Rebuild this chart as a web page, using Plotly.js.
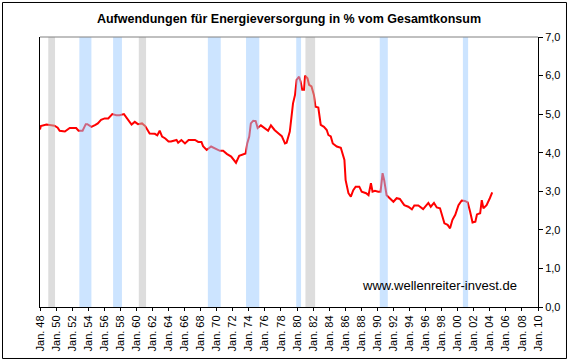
<!DOCTYPE html>
<html><head><meta charset="utf-8">
<script src="https://cdn.plot.ly/plotly-3.0.1.min.js"></script>
<style>html,body{margin:0;padding:0;background:#fff}#chart{width:570px;height:362px}</style>
</head><body><div id="chart"></div>
<script>
// Data: year (decimal) and share of energy spending in % of total consumption
const years = [1948.0,1948.1,1948.8,1949.8,1950.2,1950.45,1951.1,1951.7,1952.5,1952.8,1953.3,1953.7,1953.9,1954.4,1954.9,1955.2,1955.6,1956.05,1956.5,1957.0,1957.5,1957.9,1958.45,1958.9,1959.4,1959.8,1960.2,1960.7,1961.1,1961.65,1962.3,1962.6,1962.9,1963.2,1963.6,1964.0,1964.3,1965.0,1965.2,1965.6,1966.05,1966.5,1967.3,1967.7,1968.1,1968.3,1968.75,1969.3,1969.8,1970.4,1970.8,1971.25,1971.8,1972.1,1972.4,1972.8,1973.2,1973.6,1973.8,1974.05,1974.25,1974.55,1974.85,1975.1,1975.5,1976.0,1976.4,1976.75,1977.2,1977.7,1978.1,1978.5,1978.7,1979.1,1979.35,1979.5,1979.75,1979.95,1980.25,1980.45,1980.65,1980.87,1981.0,1981.3,1981.5,1981.8,1982.1,1982.3,1982.65,1982.95,1983.35,1983.7,1983.9,1984.2,1984.45,1984.95,1985.45,1985.7,1985.9,1986.05,1986.4,1986.7,1987.0,1987.3,1987.75,1988.05,1988.6,1988.9,1989.2,1989.4,1989.7,1990.1,1990.4,1990.65,1990.85,1991.15,1991.6,1992.0,1992.4,1992.8,1993.35,1993.85,1994.3,1994.6,1995.1,1995.7,1996.35,1996.65,1997.05,1997.4,1997.8,1998.0,1998.35,1998.75,1999.05,1999.35,1999.7,2000.1,2000.5,2000.9,2001.25,2001.55,2001.85,2002.2,2002.4,2002.8,2003.0,2003.2,2003.6,2004.0,2004.3];
const energyShare = [4.60,4.69,4.73,4.70,4.65,4.57,4.55,4.64,4.64,4.57,4.57,4.74,4.74,4.67,4.72,4.76,4.85,4.89,4.89,5.00,4.97,4.97,5.00,4.87,4.73,4.80,4.74,4.76,4.69,4.50,4.49,4.45,4.57,4.42,4.37,4.29,4.29,4.33,4.26,4.33,4.24,4.33,4.33,4.28,4.28,4.17,4.07,4.16,4.10,4.05,4.05,3.97,3.90,3.83,3.74,3.92,3.95,3.98,4.24,4.42,4.76,4.83,4.82,4.64,4.71,4.64,4.57,4.71,4.59,4.50,4.43,4.24,4.26,4.55,5.02,5.28,5.50,5.89,5.97,5.84,5.63,5.63,6.00,5.93,5.76,5.72,5.50,5.19,5.17,4.72,4.67,4.59,4.46,4.42,4.24,4.16,4.13,3.98,3.81,3.29,2.95,2.86,3.03,3.12,3.12,2.99,2.95,2.90,3.21,2.99,3.01,2.99,2.99,3.47,3.29,2.90,2.82,2.73,2.82,2.80,2.64,2.60,2.53,2.63,2.63,2.54,2.70,2.60,2.70,2.58,2.56,2.39,2.17,2.13,2.04,2.26,2.39,2.64,2.76,2.75,2.71,2.47,2.19,2.21,2.40,2.43,2.77,2.56,2.64,2.82,2.97];

// Shaded periods
const bandStart = [1949.03,1952.9,1957.1,1960.3,1968.9,1973.65,1979.9,1981.05,1990.3,2000.65];
const bandEnd   = [1949.87,1954.4,1958.2,1961.2,1970.5,1975.3,1980.5,1982.25,1991.3,2001.3];
const bandKind  = ['gray','blue','blue','gray','blue','blue','blue','gray','blue','blue'];

// Tick labels
const tickYears = [];
for (let y = 1948; y <= 2010; y += 2) tickYears.push(y);
const tickLabels = tickYears.map(y => 'Jan. ' + String(y % 100).padStart(2, '0'));

const font = 'Liberation Sans, Arial, sans-serif';
const bandColors = {gray: 'rgb(187,187,187)', blue: 'rgb(153,201,255)'};

const shapes = bandStart.map((s, i) => ({
  type: 'rect', xref: 'x', yref: 'paper', x0: s, x1: bandEnd[i], y0: 0, y1: 1,
  fillcolor: bandColors[bandKind[i]], opacity: 0.5, line: {width: 0}, layer: 'above'
}));
// top border of plot area (gray)
shapes.push({type: 'line', xref: 'paper', yref: 'paper', x0: 0, x1: 1, y0: 1, y1: 1,
  line: {color: 'rgb(128,128,128)', width: 1}, layer: 'above'});
// outer frame
shapes.push({type: 'rect', xref: 'paper', yref: 'paper', x0: -0.0753, x1: 1.0572, y0: -0.1907, y1: 1.1278,
  line: {color: 'black', width: 1}, fillcolor: 'rgba(0,0,0,0)', layer: 'above'});

const trace = {
  x: years, y: energyShare, type: 'scatter', mode: 'lines',
  line: {color: 'rgb(255,0,0)', width: 2}, hoverinfo: 'skip'
};

const layout = {
  width: 570, height: 362,
  margin: {l: 40, r: 32, t: 37, b: 55, pad: 0},
  paper_bgcolor: 'white', plot_bgcolor: 'white',
  separators: ',.',
  showlegend: false,
  font: {family: font, size: 11, color: 'black'},
  title: {text: 'Aufwendungen für Energieversorgung in % vom Gesamtkonsum',
    font: {family: font, size: 12.5, color: 'black', weight: 'bold'},
    xref: 'paper', x: 0.5, xanchor: 'center', y: 1 - 19/362, yanchor: 'middle'},
  xaxis: {range: [1948, 2010], tickvals: tickYears, ticktext: tickLabels, tickangle: -90,
    showgrid: false, zeroline: false, showline: true, linecolor: 'black', linewidth: 1,
    ticks: 'outside', ticklen: 3, tickcolor: 'black', tickfont: {family: font, size: 11, color: 'black'}},
  yaxis: {range: [0, 7], dtick: 1, side: 'right', tickformat: '.1f',
    showgrid: false, zeroline: false, showline: true, mirror: true, linecolor: 'black', linewidth: 1,
    ticks: 'outside', ticklen: 4, tickcolor: 'black', tickfont: {family: font, size: 11, color: 'black'}},
  shapes: shapes,
  annotations: [{text: 'www.wellenreiter-invest.de', xref: 'paper', yref: 'paper',
    x: 0.803, y: 0.078, xanchor: 'center', yanchor: 'middle', showarrow: false,
    font: {family: font, size: 13, color: 'black'}}]
};

Plotly.newPlot('chart', [trace], layout, {displayModeBar: false, staticPlot: true});
</script></body></html>
